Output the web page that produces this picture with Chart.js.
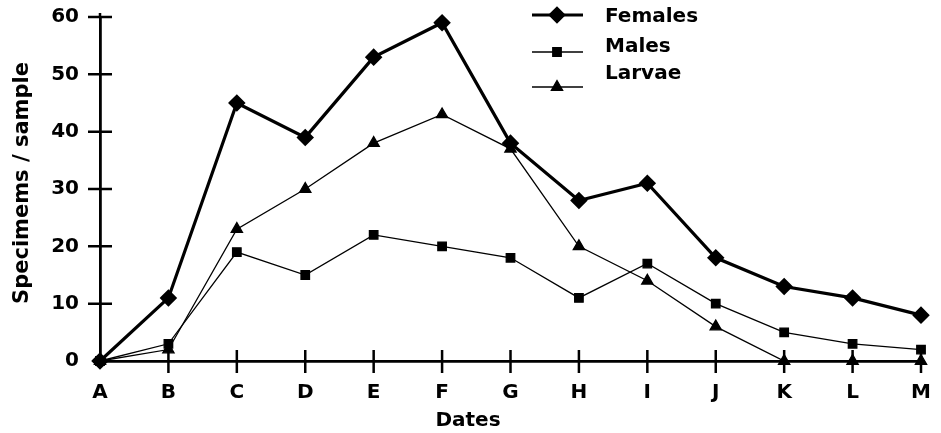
<!DOCTYPE html>
<html>
<head>
<meta charset="utf-8">
<script src="https://cdn.jsdelivr.net/npm/chart.js@4"></script>
<style>
  html, body { margin: 0; padding: 0; background: #fff; }
  #wrap { width: 941px; height: 433px; }
</style>
</head>
<body>
<div id="wrap"><canvas id="chart" width="941" height="433"></canvas></div>
<script>
const dates = ['A', 'B', 'C', 'D', 'E', 'F', 'G', 'H', 'I', 'J', 'K', 'L', 'M'];
const females = [0, 11, 45, 39, 53, 59, 38, 28, 31, 18, 13, 11, 8];
const males = [0, 3, 19, 15, 22, 20, 18, 11, 17, 10, 5, 3, 2];
const larvae = [0, 2, 23, 30, 38, 43, 37, 20, 14, 6, 0, 0, 0];
const yTicks = [0, 10, 20, 30, 40, 50, 60];
const xTitle = 'Dates';
const yTitle = 'Specimems / sample';

const FONT = "'DejaVu Sans', sans-serif";

// ticks that cross the axis line, like the printed figure
const crossTicks = {
    id: 'crossTicks',
    afterDraw(chart) {
        const ctx = chart.ctx;
        const x = chart.scales.x, y = chart.scales.y;
        ctx.save();
        ctx.strokeStyle = '#000';
        ctx.lineWidth = 2.5;
        ctx.beginPath();
        x.ticks.forEach((t, i) => {
            if (i === 0) return;
            const px = x.getPixelForTick(i);
            ctx.moveTo(px, y.bottom - 11);
            ctx.lineTo(px, y.bottom + 12);
        });
        y.ticks.forEach((t, i) => {
            if (t.value === 0) return;
            const py = y.getPixelForValue(t.value);
            ctx.moveTo(x.left - 12, py);
            ctx.lineTo(x.left + 12, py);
        });
        // axis runs a little past the last tick at the top
        ctx.moveTo(x.left, y.top);
        ctx.lineTo(x.left, y.top - 4);
        ctx.stroke();

        // axis titles, placed where the figure has them (not centred)
        ctx.fillStyle = '#000';
        ctx.textAlign = 'center';
        ctx.textBaseline = 'middle';
        ctx.font = 'bold 20px ' + FONT;
        ctx.fillText(xTitle, 468, 421);
        ctx.translate(23, 183);
        ctx.rotate(-Math.PI / 2);
        ctx.font = 'bold 21px ' + FONT;
        ctx.fillText(yTitle, 0, 0);
        ctx.restore();
    }
};

// legend drawn as line + marker, as in the figure
const lineLegend = {
    id: 'lineLegend',
    afterDraw(chart) {
        const ctx = chart.ctx;
        const markRows = [15, 52, 87];
        const textRows = [17, 47, 74];
        ctx.save();
        chart.data.datasets.forEach((ds, i) => {
            const yy = markRows[i];
            ctx.strokeStyle = '#000';
            ctx.lineWidth = ds.borderWidth;
            ctx.beginPath();
            ctx.moveTo(532, yy);
            ctx.lineTo(583, yy);
            ctx.stroke();
            Chart.helpers.drawPoint(ctx, {
                pointStyle: ds.pointStyle,
                radius: ds.pointRadius,
                rotation: 0,
                borderWidth: 1
            }, 557, yy);
            ctx.fillStyle = '#000';
            ctx.font = 'bold 20px ' + FONT;
            ctx.textBaseline = 'middle';
            ctx.fillText(ds.label, 605, textRows[i]);
        });
        ctx.restore();
    }
};

new Chart(document.getElementById('chart'), {
    type: 'line',
    data: {
        labels: dates,
        datasets: [{
            label: 'Females',
            data: females,
            borderColor: '#000',
            backgroundColor: '#000',
            borderWidth: 3.2,
            pointStyle: 'rectRot',
            pointRadius: 6.5,
            tension: 0
        }, {
            label: 'Males',
            data: males,
            borderColor: '#000',
            backgroundColor: '#000',
            borderWidth: 1.3,
            pointStyle: 'rect',
            pointRadius: 6,
            tension: 0
        }, {
            label: 'Larvae',
            data: larvae,
            borderColor: '#000',
            backgroundColor: '#000',
            borderWidth: 1.3,
            pointStyle: 'triangle',
            pointRadius: 6.5,
            tension: 0
        }]
    },
    options: {
        responsive: false,
        animation: false,
        clip: false,
        layout: { padding: { top: 17, right: 20, left: 0, bottom: 0 } },
        scales: {
            x: {
                offset: false,
                grid: { display: false },
                border: { display: true, color: '#000', width: 2.8 },
                ticks: { color: '#000', font: { family: FONT, size: 20, weight: 'bold' }, padding: 12, maxRotation: 0 },
                title: { display: false, text: xTitle },
                afterFit(s) { s.height = 72; s.paddingLeft = 0; s.paddingRight = 0; }
            },
            y: {
                min: 0,
                max: 60,
                afterBuildTicks(s) { s.ticks = yTicks.map(v => ({ value: v })); },
                grid: { display: false },
                border: { display: true, color: '#000', width: 2.8 },
                ticks: { color: '#000', font: { family: FONT, size: 20, weight: 'bold' }, padding: 13 },
                title: { display: false, text: yTitle },
                afterFit(s) { s.width = 100; s.paddingTop = 0; s.paddingBottom = 0; }
            }
        },
        plugins: {
            legend: { display: false },
            tooltip: { enabled: false }
        }
    },
    plugins: [crossTicks, lineLegend]
});
</script>
</body>
</html>
